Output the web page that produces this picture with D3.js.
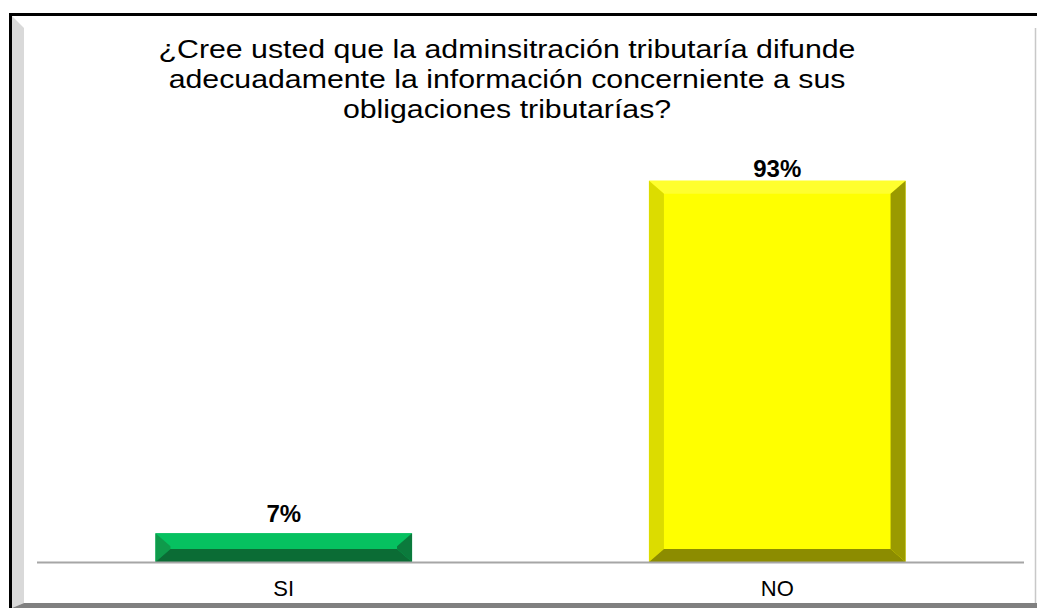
<!DOCTYPE html>
<html lang="es">
<head>
    <meta charset="UTF-8">
    <title>Difusión de información tributaria</title>
    <script src="https://d3js.org/d3.v7.min.js"></script>
    <style>
        body { margin: 0; background: #fff; }
        svg { display: block; font-family: "Liberation Sans", Arial, sans-serif; }
        .title { font-size: 26px; fill: #000; text-anchor: middle; }
        .bar-label { font-size: 24px; font-weight: bold; text-anchor: middle; fill: #000; }
        .cat-label { font-size: 22px; text-anchor: middle; fill: #000; }
    </style>
</head>
<body>
    <svg width="1037" height="608"></svg>
    <script>
        const categories = ["SI", "NO"];
        const values = [7, 93];
        const labels = ["7%", "93%"];
        const titleLines = [
            "¿Cree usted que la adminsitración tributaría difunde",
            "adecuadamente la información concerniente a sus",
            "obligaciones tributarías?"
        ];

        // bevel colours: top, left, right, bottom, face
        const palettes = [
            { top: "#06c160", left: "#0f9a4b", right: "#0b7a3c", bottom: "#0b6c35", face: "#06c160" },
            { top: "#ffff2e", left: "#dcdc00", right: "#9a9a00", bottom: "#8c8c00", face: "#ffff00" }
        ];

        const svg = d3.select("svg");
        const W = 1037, H = 608;

        // frame
        svg.append("rect").attr("x", 12).attr("y", 16).attr("width", W - 12).attr("height", H - 16).attr("fill", "#fff");
        svg.append("polygon")
            .attr("points", [[12, 16], [24, 28], [24, 603], [12, 608]].join(" "))
            .attr("fill", "#d9d9d9");
        svg.append("polygon")
            .attr("points", [[12, 608], [24, 603], [W, 603], [W, 608]].join(" "))
            .attr("fill", "#808080");
        svg.append("line").attr("x1", 1035.5).attr("x2", 1035.5).attr("y1", 28).attr("y2", 603)
            .attr("stroke", "#c8c8c8").attr("stroke-width", 1.5);
        svg.append("path")
            .attr("d", `M10.5,${H} V14.5 H${W}`)
            .attr("fill", "none").attr("stroke", "#000").attr("stroke-width", 3);

        const x = d3.scaleBand()
            .domain(categories)
            .range([37, 1024])
            .paddingInner(0.48)
            .paddingOuter(0.24);

        const y = d3.scaleLinear()
            .domain([0, 100])
            .range([562, 152]);

        // title (stretched horizontally like the original picture)
        svg.append("text")
            .attr("class", "title")
            .attr("transform", "translate(507,0) scale(1.165,1)")
            .selectAll("tspan")
            .data(titleLines)
            .join("tspan")
            .attr("x", 0)
            .attr("y", (d, i) => 58 + i * 30)
            .text(d => d);

        // bars with bevel
        const bars = svg.selectAll(".bar")
            .data(categories.map((c, i) => ({ c, v: values[i], label: labels[i], pal: palettes[i] })))
            .join("g")
            .attr("class", "bar");

        bars.each(function (d) {
            const g = d3.select(this);
            const x0 = x(d.c), x1 = x0 + x.bandwidth();
            const y0 = y(d.v), y1 = y(0);
            const bx = 15, by = Math.min(13, (y1 - y0) / 2);
            g.append("rect").attr("x", x0).attr("y", y0).attr("width", x1 - x0).attr("height", y1 - y0).attr("fill", d.pal.face);
            const poly = (pts, fill) => g.append("polygon").attr("points", pts.join(" ")).attr("fill", fill);
            poly([[x0, y0], [x1, y0], [x1 - bx, y0 + by], [x0 + bx, y0 + by]], d.pal.top);
            poly([[x0, y0], [x0 + bx, y0 + by], [x0 + bx, y1 - by], [x0, y1]], d.pal.left);
            poly([[x1, y0], [x1 - bx, y0 + by], [x1 - bx, y1 - by], [x1, y1]], d.pal.right);
            poly([[x0, y1], [x0 + bx, y1 - by], [x1 - bx, y1 - by], [x1, y1]], d.pal.bottom);
        });

        // labels sit above the bar, but stay inside the plot area
        bars.append("text")
            .attr("class", "bar-label")
            .attr("x", d => x(d.c) + x.bandwidth() / 2)
            .attr("y", d => Math.max(y(d.v) - 11, y(100) + 25))
            .text(d => d.label);

        // baseline
        svg.append("line")
            .attr("x1", 37).attr("x2", 1024)
            .attr("y1", y(0) + 0.5).attr("y2", y(0) + 0.5)
            .attr("stroke", "#a6a6a6").attr("stroke-width", 2);

        svg.selectAll(".cat-label")
            .data(categories)
            .join("text")
            .attr("class", "cat-label")
            .attr("x", d => x(d) + x.bandwidth() / 2)
            .attr("y", 596)
            .text(d => d);
    </script>
</body>
</html>
